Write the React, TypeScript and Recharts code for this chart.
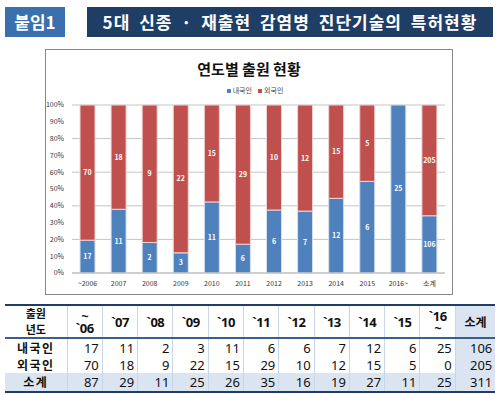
import React from 'react';
import { BarChart, Bar, XAxis, YAxis, CartesianGrid, LabelList } from 'recharts';

const categories = ['~2006', '2007', '2008', '2009', '2010', '2011', '2012', '2013', '2014', '2015', '2016~', '소계'];
const domestic = [17, 11, 2, 3, 11, 6, 6, 7, 12, 6, 25, 106];
const foreign = [70, 18, 9, 22, 15, 29, 10, 12, 15, 5, 0, 205];
const totals = [87, 29, 11, 25, 26, 35, 16, 19, 27, 11, 25, 311];
const tableHeads = ['~\n`06', '`07', '`08', '`09', '`10', '`11', '`12', '`13', '`14', '`15', '`16\n~', '소계'];
const yTicks = [0, 0.1, 0.2, 0.3, 0.4, 0.5, 0.6, 0.7, 0.8, 0.9, 1];

const BLUE = '#4f81bd';
const RED = '#c0504d';
const NAVY = '#1f3e65';
const FONT = '"Noto Sans CJK KR", "Noto Sans", sans-serif';
const TABLE_FONT = '"Noto Sans", "Noto Sans CJK KR", sans-serif';

const data = categories.map((cat, i) => ({ cat, domestic: domestic[i], foreign: foreign[i] }));

const hideZero = (v: any) => (Number(v) === 0 ? '' : v);

const cellBase: React.CSSProperties = {
  borderRight: '1px solid #c9d6e6',
  padding: '0 3px',
  textAlign: 'right',
  fontSize: 13,
  lineHeight: '14px',
  color: '#111',
};

const rowLabel: React.CSSProperties = {
  borderRight: '1px solid #c9d6e6',
  padding: 0,
  textAlign: 'center',
  fontWeight: 700,
  fontSize: 12,
  lineHeight: '14px',
  letterSpacing: 1.5,
  color: '#111',
  fontFamily: FONT,
};

function DataTable() {
  const rows = [
    { label: '내국인', values: domestic, bg: '#ffffff', h: 17 },
    { label: '외국인', values: foreign, bg: '#ffffff', h: 17 },
    { label: '소계', values: totals, bg: '#dbe5f1', h: 18 },
  ];
  return (
    <table
      style={{
        position: 'absolute',
        left: 5,
        top: 304,
        width: 490,
        borderCollapse: 'collapse',
        tableLayout: 'fixed',
        fontFamily: TABLE_FONT,
        borderTop: `2px solid ${NAVY}`,
        borderBottom: `2px solid ${NAVY}`,
      }}
    >
      <colgroup>
        <col style={{ width: 62 }} />
        {tableHeads.slice(0, 11).map((h, i) => (
          <col key={i} style={{ width: 35.3 }} />
        ))}
        <col style={{ width: 40 }} />
      </colgroup>
      <thead>
        <tr style={{ height: 31, borderBottom: `2px solid #3b5f8c` }}>
          <th style={{ ...rowLabel, fontSize: 11, lineHeight: '15.5px', letterSpacing: 0 }}>
            출원
            <br />
            년도
          </th>
          {tableHeads.map((h, i) => {
            const last = i === tableHeads.length - 1;
            return (
              <th
                key={i}
                style={{
                  ...rowLabel,
                  fontFamily: last ? FONT : TABLE_FONT,
                  fontSize: last ? 12 : 13,
                  lineHeight: last ? '15px' : '12px',
                  letterSpacing: last ? 0 : -0.5,
                  background: last ? '#dbe5f1' : '#fff',
                  borderRight: last ? 'none' : rowLabel.borderRight,
                  whiteSpace: 'pre-line',
                }}
              >
                {h}
              </th>
            );
          })}
        </tr>
      </thead>
      <tbody>
        {rows.map((r) => (
          <tr key={r.label} style={{ height: r.h, background: r.bg }}>
            <td style={{ ...rowLabel, height: r.h }}>{r.label}</td>
            {r.values.map((v, i) => (
              <td
                key={i}
                style={{
                  ...cellBase,
                  height: r.h,
                  background: i === r.values.length - 1 ? '#dbe5f1' : undefined,
                  borderRight: i === r.values.length - 1 ? 'none' : cellBase.borderRight,
                }}
              >
                {v}
              </td>
            ))}
          </tr>
        ))}
      </tbody>
    </table>
  );
}

export default function App() {
  return (
    <div
      style={{
        position: 'absolute',
        left: 0,
        top: 0,
        width: 500,
        height: 395,
        background: '#fff',
        fontFamily: FONT,
        overflow: 'hidden',
      }}
    >
      {/* header */}
      <div
        style={{
          position: 'absolute', left: 5, top: 7, width: 60, height: 30, background: '#3a70ad',
          color: '#fff', fontWeight: 700, fontSize: 17, lineHeight: '30px', textAlign: 'center',
        }}
      >
        붙임1
      </div>
      <div
        style={{
          position: 'absolute', left: 87, top: 7, width: 406, height: 30, background: NAVY,
          color: '#fff', fontWeight: 700, fontSize: 17, lineHeight: '30px', textAlign: 'center',
          letterSpacing: 1, wordSpacing: 4,
        }}
      >
        5대 신종 · 재출현 감염병 진단기술의 특허현황
      </div>

      {/* chart box */}
      <div
        style={{
          position: 'absolute', left: 45, top: 49, width: 406, height: 244,
          border: '1px solid #888', background: '#fff',
        }}
      >
        <div
          style={{
            position: 'absolute', left: 0, top: 8, width: '100%', textAlign: 'center',
            fontWeight: 700, fontSize: 15, color: '#111',
          }}
        >
          연도별 출원 현황
        </div>
        <div
          style={{
            position: 'absolute', left: 0, top: 35, width: '100%', textAlign: 'center',
            fontSize: 7, color: '#444', paddingLeft: 6,
          }}
        >
          <span style={{ display: 'inline-block', width: 4, height: 4, background: BLUE, marginRight: 2 }} />
          내국인
          <span style={{ display: 'inline-block', width: 4, height: 4, background: RED, margin: '0 2px 0 6px' }} />
          외국인
        </div>
        <div style={{ position: 'absolute', left: 0, top: 0 }}>
          <BarChart
            width={406}
            height={244}
            data={data}
            stackOffset="expand"
            margin={{ top: 55, right: 7, bottom: 0, left: 0 }}
            barSize={15}
          >
            <CartesianGrid vertical={false} stroke="#c4c4c4" />
            <XAxis
              dataKey="cat"
              tickLine={false}
              axisLine={{ stroke: '#bdbdbd' }}
              tick={{ fontSize: 7, fill: '#333' }}
              interval={0}
              height={21}
            />
            <YAxis
              domain={[0, 1]}
              ticks={yTicks}
              tickFormatter={(v: number) => `${Math.round(v * 100)}%`}
              tickLine={false}
              axisLine={false}
              tick={{ fontSize: 7, fill: '#333' }}
              width={26}
            />
            <Bar dataKey="domestic" stackId="a" fill={BLUE} stroke="#d6e1ef" strokeWidth={1} isAnimationActive={false}>
              <LabelList dataKey="domestic" position="center" fill="#fff" fontSize={7} fontWeight={700} formatter={hideZero} />
            </Bar>
            <Bar dataKey="foreign" stackId="a" fill={RED} stroke="#efd3d2" strokeWidth={1} isAnimationActive={false}>
              <LabelList dataKey="foreign" position="center" fill="#fff" fontSize={7} fontWeight={700} formatter={hideZero} />
            </Bar>
          </BarChart>
        </div>
      </div>

      <DataTable />
    </div>
  );
}
